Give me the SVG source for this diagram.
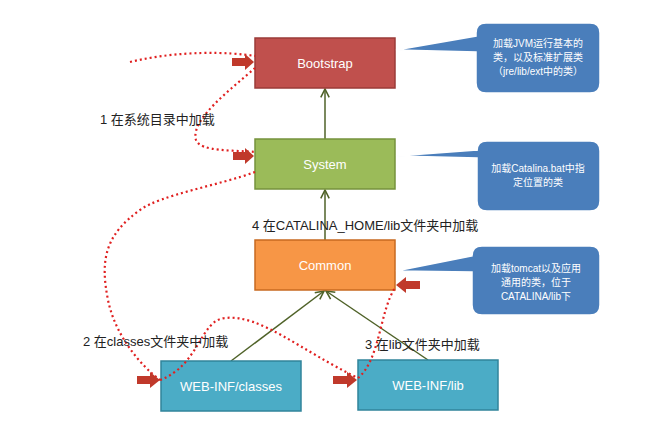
<svg xmlns="http://www.w3.org/2000/svg" width="653" height="422" viewBox="0 0 653 422">
<defs>
<style>
.box{stroke-width:1.5}
.lbl{font-family:"Liberation Sans","Noto Sans CJK SC",sans-serif;font-size:13px;fill:#fff;text-anchor:middle}
.cap{font-family:"Liberation Sans","Noto Sans CJK SC",sans-serif;font-size:13px;fill:#222}
.co{font-family:"Liberation Sans","Noto Sans CJK SC",sans-serif;font-size:10px;fill:#fff;text-anchor:middle}
.call{fill:#4A7EBB;stroke:#fff;stroke-width:1.5}
.dot{fill:none;stroke:#E02020;stroke-width:2.2;stroke-dasharray:2 3}
.ln{stroke:#4F6228;stroke-width:1.5;fill:none;marker-end:url(#ah)}
.blk{fill:#C0392B}
</style>
<marker id="ah" viewBox="0 0 10 10" refX="9" refY="5" markerWidth="7" markerHeight="7" orient="auto"><path d="M1,1 L9,5 L1,9" fill="none" stroke="#4F6228" stroke-width="1.5"/></marker>
</defs>
<rect width="653" height="422" fill="#fff"/>
<g id="connectors">
<line class="ln" x1="325" y1="139" x2="325" y2="89"/>
<line class="ln" x1="325" y1="240" x2="325" y2="190"/>
<line class="ln" x1="231" y1="361" x2="324" y2="291"/>
<line class="ln" x1="428" y1="360" x2="326" y2="291"/>
</g>
<g id="bootstrap"><rect class="box" x="255" y="38" width="140" height="50" fill="#C0504D" stroke="#9B3B38"/><text class="lbl" x="325" y="68">Bootstrap</text></g>
<g id="system"><rect class="box" x="255" y="139" width="140" height="50" fill="#9BBB59" stroke="#76923C"/><text class="lbl" x="325" y="169">System</text></g>
<g id="common"><rect class="box" x="255" y="240" width="140" height="50" fill="#F79646" stroke="#C86A20"/><text class="lbl" x="325" y="270">Common</text></g>
<g id="classes"><rect class="box" x="161" y="361" width="140" height="50" fill="#4BACC6" stroke="#31849B"/><text class="lbl" x="231" y="391">WEB-INF/classes</text></g>
<g id="lib"><rect class="box" x="358" y="360" width="140" height="50" fill="#4BACC6" stroke="#31849B"/><text class="lbl" x="428" y="390">WEB-INF/lib</text></g>
<g id="callout1"><path class="call" d="M486,23 H590 Q600,23 600,33 V83 Q600,93 590,93 H486 Q476,93 476,83 V52 L396,50 L476,36 V33 Q476,23 486,23Z"/>
<text class="co" x="538" y="47">加载JVM运行基本的</text><text class="co" x="538" y="61">类，以及标准扩展类</text><text class="co" x="538" y="75">（jre/lib/ext中的类）</text></g>
<g id="callout2"><path class="call" d="M487,141 H590 Q600,141 600,151 V201 Q600,211 590,211 H487 Q477,211 477,201 V158 L396,156 L477,150 V151 Q477,141 487,141Z"/>
<text class="co" x="538" y="172">加载Catalina.bat中指</text><text class="co" x="538" y="186">定位置的类</text></g>
<g id="callout3"><path class="call" d="M482,246 H590 Q600,246 600,256 V305 Q600,315 590,315 H482 Q472,315 472,305 V272 L396,271 L472,256 Q472,246 482,246Z"/>
<text class="co" x="536" y="272">加载tomcat以及应用</text><text class="co" x="536" y="286">通用的类，位于</text><text class="co" x="536" y="300">CATALINA/lib下</text></g>
<g id="dotted">
<path class="dot" d="M130,62 C180,50 230,52 255,56"/>
<path class="dot" d="M255,68 C230,90 190,120 196,140 C200,152 235,150 255,152"/>
<path class="dot" d="M255,172 C220,185 160,195 140,210 C105,235 100,260 108,300 C115,335 140,365 160,380"/>
<path class="dot" d="M160,380 C200,365 200,320 225,318 C260,314 300,350 358,378"/>
<path class="dot" d="M358,378 C380,360 380,310 395,288"/>
</g>
<g id="blockarrows">
<path class="blk" d="M232,58 H245 V54 L254,62 L245,70 V66 H232Z"/>
<path class="blk" d="M233,152 H245 V148 L254,156 L245,164 V160 H233Z"/>
<path class="blk" d="M137,376 H150 V372 L160,380 L150,388 V384 H137Z"/>
<path class="blk" d="M333,376 H347 V372 L357,380 L347,388 V384 H333Z"/>
<path class="blk" d="M420,281 H406 V277 L396,285 L406,293 V289 H420Z"/>
</g>
<g id="labels">
<text class="cap" x="100" y="124">1 在系统目录中加载</text>
<text class="cap" x="252" y="230">4 在CATALINA_HOME/lib文件夹中加载</text>
<text class="cap" x="83" y="346">2 在classes文件夹中加载</text>
<text class="cap" x="365" y="349">3 在lib文件夹中加载</text>
</g>
</svg>
